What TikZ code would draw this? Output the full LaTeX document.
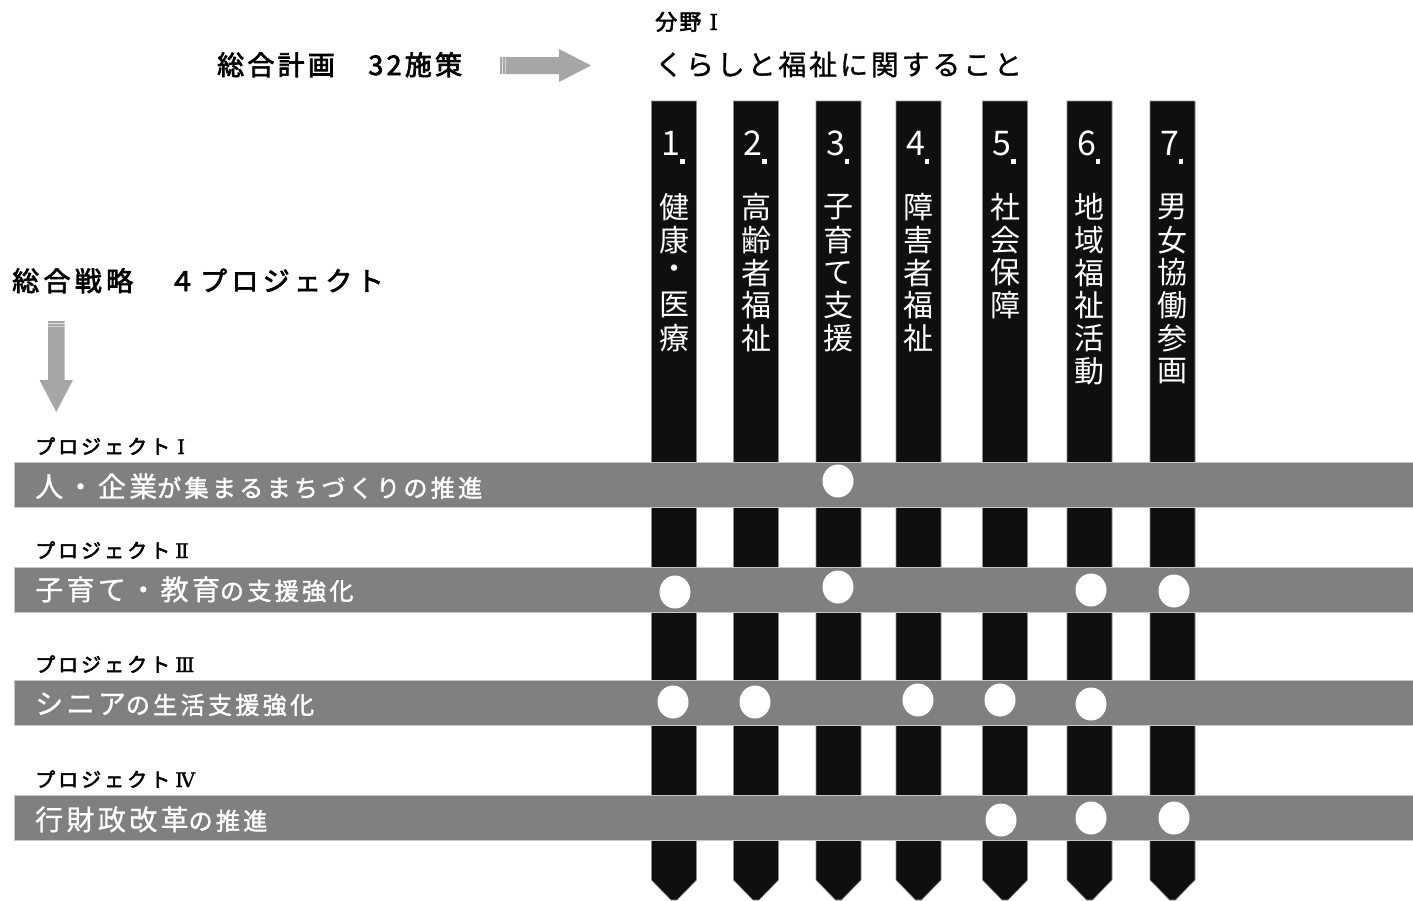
\documentclass[tikz,border=0pt]{standalone}
\usepackage{fontspec}
\setmainfont{Noto Sans CJK JP}
\newfontfamily\jpfont{Noto Sans CJK JP}
\newfontfamily\jpmed{Noto Sans CJK JP}[FakeBold=2.6]
\newfontfamily\jpsemi{Noto Sans CJK JP}[FakeBold=1.0]
\newfontfamily\jpsmall{Noto Sans CJK JP}[FakeBold=1.8]
\newfontfamily\romfont{DejaVu Serif}[FakeBold=1.2]
\newcommand\rnum[1]{\hspace{5pt}{\romfont #1}}
\definecolor{colblack}{HTML}{0F0F0F}
\definecolor{bargray}{HTML}{808080}
\definecolor{arrgray}{HTML}{A6A6A6}
\newcommand\bigtxt[1]{{\jpsemi\fontsize{28}{30}\selectfont\addfontfeature{LetterSpace=12}#1}}
\newcommand\smalltxt[1]{{\jpsmall\fontsize{24}{26}\selectfont\addfontfeature{LetterSpace=14}#1}}
\newcommand\colchars[3]{%
  \foreach \c [count=\j] in {#3} {\node[vtxt] (v#1-\j) at (#2, 207+32.8*\j-32.8) {\c};}}
\begin{document}
\begin{tikzpicture}[x=1pt,y=-1pt,
  colbar/.style={fill=colblack, draw=black!45, line width=0.6pt},
  projbar/.style={fill=bargray, draw=black!22, line width=0.6pt, inner sep=0pt,
                  minimum width=1399pt, minimum height=45pt, anchor=north west},
  headbold/.style={font=\jpmed\fontsize{27}{30}\selectfont\addfontfeature{LetterSpace=12},
                   anchor=base west, inner sep=0pt, text=black},
  headwide/.style={font=\jpmed\fontsize{27}{30}\selectfont\addfontfeature{LetterSpace=16},
                   anchor=base west, inner sep=0pt, text=black},
  projlab/.style={font=\jpmed\fontsize{20}{22}\selectfont\addfontfeature{LetterSpace=15},
                  anchor=base west, inner sep=0pt, text=black},
  bartxt/.style={font=\jpfont, text=white, anchor=base west, inner sep=0pt},
  numtxt/.style={font=\jpfont\fontsize{34}{36}\selectfont, text=white, anchor=base, inner sep=0pt},
  vtxt/.style={font=\jpfont\fontsize{30}{32}\selectfont, text=white, inner sep=0pt},
  dotfill/.style={fill=white}
]
\useasboundingbox (0,0) rectangle (1413,900);

% columns
\foreach \cx [count=\i] in {674,756,838.5,918.5,1005,1089.5,1172.5} {
  \path[colbar] (\cx-22.5,101) -- (\cx+22.5,101) -- (\cx+22.5,880) -- (\cx+3,900)
     -- (\cx-3,900) -- (\cx-22.5,880) -- cycle;
  \node[numtxt] (num\i) at (\cx-3,155) {\i};
  \fill[white] (\cx+6,159) rectangle (\cx+10.5,163.5);
}
\colchars{1}{674}{健,康,・,医,療}
\colchars{2}{756}{高,齢,者,福,祉}
\colchars{3}{838.5}{子,育,て,支,援}
\colchars{4}{918.5}{障,害,者,福,祉}
\colchars{5}{1005}{社,会,保,障}
\colchars{6}{1089.5}{地,域,福,祉,活,動}
\colchars{7}{1172.5}{男,女,協,働,参,画}

% project bars
\node[projbar] (bar1) at (14,462) {};
\node[projbar] (bar2) at (14,567) {};
\node[projbar] (bar3) at (14,680) {};
\node[projbar] (bar4) at (14,795) {};

% dots
\foreach \px/\py in {838/481,
                     675/592, 838/587, 1091/590, 1174/591,
                     673/702, 755/702, 918/700, 1000/700, 1091/704,
                     1001/820, 1091/818, 1174/818}
  \fill[dotfill] (\px,\py) ellipse [x radius=15.5, y radius=16.5];

% header texts
\node[headbold] (plan) at (217,75) {総合計画　32施策};
\fill[arrgray] (500,57) -- (559,57) -- (559,49) -- (591,65.5) -- (559,82) -- (559,74) -- (500,74) -- cycle;
\draw[white, line width=0.7pt, opacity=0.7] (502,57) -- (502,74);
\draw[white, line width=0.6pt, opacity=0.5] (505,57) -- (505,74);

\node[font=\jpmed\fontsize{22}{24}\selectfont\addfontfeature{LetterSpace=10},
      anchor=base west, inner sep=0pt] (field) at (655,30) {分野\rnum{\hspace{3pt}Ⅰ}};
\node[font=\jpsemi\fontsize{28}{30}\selectfont\addfontfeature{LetterSpace=10},
      anchor=base west, inner sep=0pt] (fieldname) at (655,75) {くらしと福祉に関すること};

\node[headwide] (strategy) at (12,291) {総合戦略　４プロジェクト};
\fill[arrgray] (48,321) -- (64.5,321) -- (64.5,380) -- (73,380) -- (56.25,412) -- (39.5,380) -- (48,380) -- cycle;
\draw[white, line width=0.7pt, opacity=0.7] (48,323) -- (64.5,323);
\draw[white, line width=0.6pt, opacity=0.5] (48,326) -- (64.5,326);

% project labels
\node[projlab] (p1) at (35,454) {プロジェクト\rnum{\hspace{2pt}Ⅰ}};
\node[projlab] (p2) at (35,558) {プロジェクト\rnum{Ⅱ}};
\node[projlab] (p3) at (35,672) {プロジェクト\rnum{Ⅲ}};
\node[projlab] (p4) at (35,787) {プロジェクト\rnum{Ⅳ}};

% bar texts
\node[bartxt] (t1) at (35,497) {\bigtxt{人・企業}\smalltxt{が集まるまちづくりの推進}};
\node[bartxt] (t2) at (35,600) {\bigtxt{子育て・教育}\smalltxt{の支援強化}};
\node[bartxt] (t3) at (35,714) {\bigtxt{シニア}\smalltxt{の生活支援強化}};
\node[bartxt] (t4) at (35,830) {\bigtxt{行財政改革}\smalltxt{の推進}};
\end{tikzpicture}
\end{document}
